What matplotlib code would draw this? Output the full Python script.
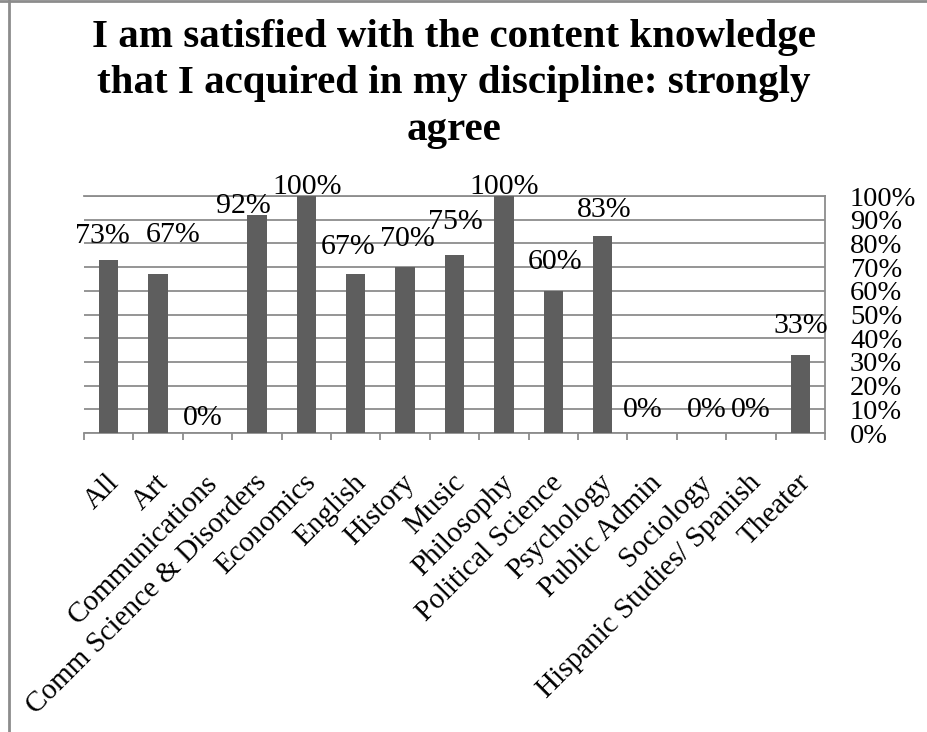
import matplotlib
matplotlib.use("Agg")
import matplotlib.pyplot as plt
from matplotlib.lines import Line2D
from matplotlib.transforms import blended_transform_factory, ScaledTranslation

categories = ["All", "Art", "Communications", "Comm Science & Disorders",
              "Economics", "English", "History", "Music", "Philosophy",
              "Political Science", "Psychology", "Public Admin", "Sociology",
              "Hispanic Studies/ Spanish", "Theater"]
strongly_agree = [73, 67, 0, 92, 100, 67, 70, 75, 100, 60, 83, 0, 0, 0, 33]

# value labels were nudged by hand in the workbook: shift in bar slots, baseline in %
label_dx = [-0.13, 0.3, -0.1, -0.27, 0.02, -0.16, 0.05, 0.02, 0.0, 0.04,
            0.04, -0.18, 0.11, 0.0, 0.0]
label_y = [80.3, 80.6, 3.4, 93.0, 100.8, 75.5, 78.9, 86.1, 100.8, 69.2,
           91.1, 6.8, 6.8, 6.8, 42.2]

title_lines = ["I am satisfied with the content knowledge",
               "that I acquired in my discipline: strongly",
               "agree"]

plt.rcParams['font.family'] = ['Liberation Serif', 'DejaVu Serif']

W, H = 927, 732
fig = plt.figure(figsize=(W / 100, H / 100), dpi=100)
ax = fig.add_axes([84 / W, 1 - 433 / H, (825 - 84) / W, (433 - 196) / H])

grey = '#8c8c8c'
x = list(range(len(categories)))
ax.bar(x, strongly_agree, width=0.39, color='#5e5e5e', zorder=3)

ax.set_xlim(-0.5, len(categories) - 0.5)
ax.set_ylim(0, 100)

# gridlines every 10%
ax.set_yticks(range(0, 101, 10))
ax.yaxis.grid(True, color=grey, lw=1.3, zorder=0)
ax.yaxis.tick_right()
ax.set_yticklabels([f"{v}%" for v in range(0, 101, 10)], fontsize=20.5)
ax.tick_params(axis='y', length=0, pad=18)

# category ticks sit on the slot boundaries
ax.set_xticks([i - 0.5 for i in range(len(categories) + 1)])
ax.set_xticklabels([])
ax.tick_params(axis='x', direction='out', length=5, width=1.3, color=grey)

for side in ['left', 'top']:
    ax.spines[side].set_visible(False)
for side in ['right', 'bottom']:
    ax.spines[side].set_color(grey)
    ax.spines[side].set_linewidth(1.3)
ax.axhline(100, color=grey, lw=1.3, clip_on=False, zorder=1)

# rotated category names
trans = blended_transform_factory(ax.transData, ax.transAxes) + \
    ScaledTranslation(0, -33 / 72, fig.dpi_scale_trans)
for i, name in enumerate(categories):
    ax.text(i + 0.12, 0, name, transform=trans, rotation=45,
            rotation_mode='anchor', ha='right', va='center', fontsize=21)

for i, v in enumerate(strongly_agree):
    ax.text(i + label_dx[i], label_y[i], f"{v}%", ha='center',
            va='baseline', fontsize=21.5, zorder=4, clip_on=False)

for k, line in enumerate(title_lines):
    fig.text(454 / W, 1 - (47 + 46.5 * k) / H, line, ha='center',
             va='baseline', fontsize=29.5, fontweight='bold')

# frame edges of the chart object
fig.add_artist(Line2D([9 / W, 9 / W], [0, 1], transform=fig.transFigure,
                      color=grey, lw=2))
fig.add_artist(Line2D([0, 1], [1 - 1 / H, 1 - 1 / H], transform=fig.transFigure,
                      color=grey, lw=2))

fig.savefig("out.png", dpi=100)
